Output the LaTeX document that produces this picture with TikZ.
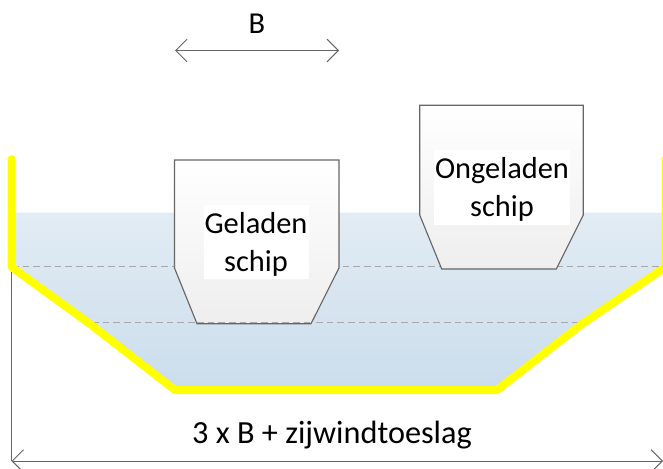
\documentclass[tikz,border=0pt]{standalone}
\usepackage{fontspec}
\setmainfont{Carlito}
\usetikzlibrary{arrows.meta}
\tikzset{
  x=0.75pt,y=-0.75pt,
  water/.style={top color=waterTop,bottom color=waterBot,draw=none},
  hull/.style={top color=white,bottom color=hullBot,draw=hullLine,line width=0.85pt,line join=miter},
  bank/.style={draw=bankYellow,line width=6pt,line join=round,line cap=round},
  level/.style={draw=levelGray,line width=0.6pt,dash pattern=on 5pt off 3pt},
  dim/.style={draw=dimGray,line width=0.75pt},
  dimarrow/.style={dim,{Straight Barb[length=8.5pt,width=17pt,angle'=90]}-{Straight Barb[length=8.5pt,width=17pt]}},
  label/.style={font=\fontsize{22.8pt}{28pt}\selectfont,text=black,align=center,inner sep=0pt},
  biglabel/.style={font=\fontsize{24.2pt}{29pt}\selectfont,text=black,inner sep=0pt}
}
\definecolor{waterTop}{HTML}{E2ECF4}
\definecolor{waterBot}{HTML}{CBDDEC}
\definecolor{hullBot}{HTML}{EEEEEE}
\definecolor{hullLine}{HTML}{666666}
\definecolor{bankYellow}{HTML}{FFFF00}
\definecolor{levelGray}{HTML}{A8A8A8}
\definecolor{dimGray}{HTML}{666666}
\begin{document}
\begin{tikzpicture}
\useasboundingbox (0,0) rectangle (663,468);
% named points
\coordinate (bTop) at (11.5,159);
\coordinate (bL1) at (11.5,267);
\coordinate (bL2) at (90,324);
\coordinate (bL3) at (175,390);
\coordinate (bR3) at (497,390);
\coordinate (bR2) at (582,324);
\coordinate (bR1) at (665.5,267);
\coordinate (bRTop) at (665.5,159);
\coordinate (lv1a) at (12,266.7);
\coordinate (lv1b) at (660,266.7);
\coordinate (lv2a) at (92,322);
\coordinate (lv2b) at (580,322);
\coordinate (dimCorner) at (11.5,461);
\coordinate (dimEnd) at (663,461);
\coordinate (bA) at (175,50.5);
\coordinate (bB) at (339,50.5);
% water
\path[water] (11.5,212.7) -- (bL1) -- (bL2) -- (bL3) -- (bR3) -- (bR2) -- (bR1) -- (665.5,212.7) -- cycle;
% water levels
\draw[level] (lv1a) -- (lv1b);
\draw[level] (lv2a) -- (lv2b);
% dimension lines
\draw[dim] (bL1) -- (dimCorner);
\draw[dimarrow] (dimCorner) -- (dimEnd);
\draw[dimarrow] (bA) -- (bB);
% bank
\draw[bank] (bTop) -- (bL1) -- (bL2) -- (bL3) -- (bR3) -- (bR2) -- (bR1) -- (bRTop);
% ships
\path[hull] (174.5,160) -- (339,160) -- (339,268) -- (311,323.7) -- (197,323.7) -- (174.5,268) -- cycle;
\path[hull] (419.7,105.3) -- (583.3,105.3) -- (583.3,215) -- (556.3,269) -- (441.7,269) -- (419.7,215) -- cycle;
\draw[level] (197,322) -- (311,322);
% labels
\node[fill=white,minimum width=78.75pt,minimum height=55.5pt,inner sep=0pt] (geladenBg) at (256.5,242) {};
\node[label] (geladen) at (256,244.5) {Geladen\\schip};
\node[fill=white,minimum width=102pt,minimum height=56.25pt,inner sep=0pt] (ongeladenBg) at (502,187.5) {};
\node[label] (ongeladen) at (502,189.5) {Ongeladen\\schip};
\node[label,anchor=base] (bLabel) at (257,33) {B};
\node[biglabel,anchor=base] (totaal) at (332,443) {3 x B + zijwindtoeslag};
\end{tikzpicture}
\end{document}
